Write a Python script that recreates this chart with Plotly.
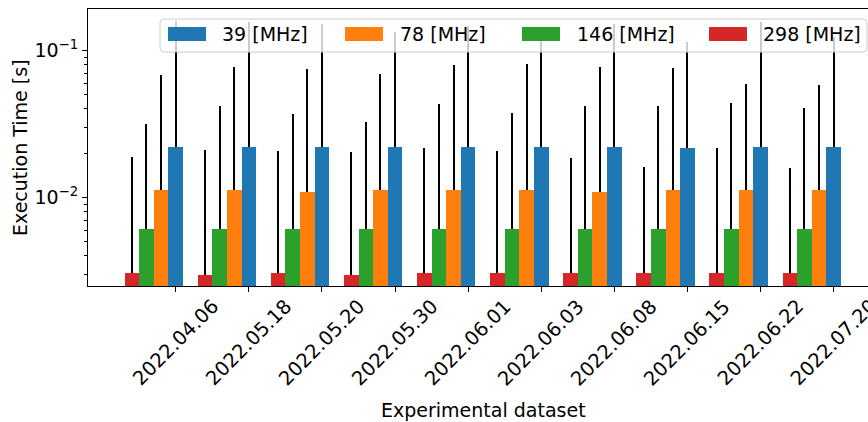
import numpy as np
import plotly.graph_objects as go

# ---- data -------------------------------------------------------------
datasets = ["2022.04.06", "2022.05.18", "2022.05.20", "2022.05.30", "2022.06.01",
            "2022.06.03", "2022.06.08", "2022.06.15", "2022.06.22", "2022.07.20"]

freq_labels = ["39 [MHz]", "78 [MHz]", "146 [MHz]", "298 [MHz]"]

mean_39 = [0.02206, 0.02206, 0.02206, 0.02206, 0.02206,
           0.02206, 0.02206, 0.02172, 0.02206, 0.02206]
std_39 = [0.1373, 0.1348, 0.1300, 0.1120, 0.1253,
          0.1059, 0.1300, 0.0930, 0.1348, 0.1019]

mean_78 = [0.01123, 0.01123, 0.01097, 0.01123, 0.01123,
           0.01123, 0.01097, 0.01123, 0.01123, 0.01123]
std_78 = [0.0571, 0.0662, 0.0641, 0.0581, 0.0687,
          0.0699, 0.0665, 0.0650, 0.0481, 0.0471]

mean_146 = [0.0061, 0.0061, 0.0061, 0.0061, 0.0061,
            0.0061, 0.0061, 0.0061, 0.0061, 0.0061]
std_146 = [0.0256, 0.0359, 0.0309, 0.0266, 0.0372,
           0.0315, 0.0359, 0.0359, 0.0379, 0.0346]

mean_298 = [0.00304, 0.00297, 0.00304, 0.00297, 0.00304,
            0.00304, 0.00304, 0.00304, 0.00304, 0.00304]
std_298 = [0.0158, 0.0181, 0.0177, 0.0174, 0.0187,
           0.0177, 0.0155, 0.0131, 0.0187, 0.0128]

y_tick_vals = [0.01, 0.1]
y_tick_text = ["10<sup>−2</sup>", "10<sup>−1</sup>"]

# ---- styling ----------------------------------------------------------
W, H = 868, 422
L_M, R_M, T_M, B_M = 88, 0, 9, 136
FONT = "DejaVu Sans"
FS = 19
colors = {"39 [MHz]": "#1f77b4", "78 [MHz]": "#ff7f0e",
          "146 [MHz]": "#2ca02c", "298 [MHz]": "#d62728"}
bar_w = 0.2

series = [  # drawn left to right inside each group
    ("298 [MHz]", mean_298, std_298, -0.6),
    ("146 [MHz]", mean_146, std_146, -0.4),
    ("78 [MHz]", mean_78, std_78, -0.2),
    ("39 [MHz]", mean_39, std_39, 0.0),
]

idx = np.arange(len(datasets))

fig = go.Figure()
for name, mean, std, off in series:
    fig.add_trace(go.Bar(
        x=idx + off, y=mean, width=bar_w, name=name,
        marker=dict(color=colors[name], line=dict(width=0)),
        error_y=dict(type="data", symmetric=False, array=std,
                     arrayminus=[0] * len(std), color="black",
                     thickness=2, width=0),
        showlegend=False,
    ))

plot_w = W - L_M - R_M
plot_h = H - T_M - B_M


def px(x):
    return (x - L_M) / plot_w


def py(y):
    return (H - B_M - y) / plot_h


shapes = []
annotations = []

# legend box with rounded corners
bx0, by0, bx1, by1, r = 160, 19, 867, 52, 4
path = (f"M {px(bx0 + r)},{py(by0)} L {px(bx1 - r)},{py(by0)} "
        f"Q {px(bx1)},{py(by0)} {px(bx1)},{py(by0 + r)} "
        f"L {px(bx1)},{py(by1 - r)} Q {px(bx1)},{py(by1)} {px(bx1 - r)},{py(by1)} "
        f"L {px(bx0 + r)},{py(by1)} Q {px(bx0)},{py(by1)} {px(bx0)},{py(by1 - r)} "
        f"L {px(bx0)},{py(by0 + r)} Q {px(bx0)},{py(by0)} {px(bx0 + r)},{py(by0)} Z")
shapes.append(dict(type="path", xref="paper", yref="paper", path=path,
                   fillcolor="rgba(255,255,255,0.8)",
                   line=dict(color="#cccccc", width=1), layer="above"))

patch_x = [168, 345, 522, 709]
text_x = [222, 400, 577, 763]
for name, x0, tx in zip(freq_labels, patch_x, text_x):
    shapes.append(dict(type="rect", xref="paper", yref="paper",
                       x0=px(x0), x1=px(x0 + 38), y0=py(41), y1=py(27),
                       fillcolor=colors[name], line=dict(width=0), layer="above"))
    annotations.append(dict(text=name, xref="paper", yref="paper",
                            x=px(tx - 2), y=py(34.5), xanchor="left", yanchor="middle",
                            showarrow=False, font=dict(family=FONT, size=FS, color="#000000")))

# rotated category labels under the ticks
for i, lab in enumerate(datasets):
    annotations.append(dict(text=lab, xref="x", yref="paper", x=i, y=py(292),
                            xanchor="center", yanchor="top", textangle=-45,
                            showarrow=False, font=dict(family=FONT, size=19.5, color="#000000")))

# axis titles
annotations.append(dict(text="Experimental dataset", xref="paper", yref="paper",
                        x=px(483), y=py(410), xanchor="center", yanchor="middle",
                        showarrow=False, font=dict(family=FONT, size=FS, color="#000000")))
annotations.append(dict(text="Execution Time [s]", xref="paper", yref="paper",
                        x=px(19.5), y=0.5, xanchor="center", yanchor="middle",
                        textangle=-90, showarrow=False,
                        font=dict(family=FONT, size=FS, color="#000000")))

fig.update_layout(
    width=W, height=H,
    margin=dict(l=L_M, r=R_M, t=T_M, b=B_M, pad=0),
    paper_bgcolor="white", plot_bgcolor="white",
    barmode="overlay", bargap=0,
    font=dict(family=FONT, size=FS, color="#000000"),
    shapes=shapes, annotations=annotations,
    xaxis=dict(range=[-1.2, 9.469], tickmode="array", tickvals=list(idx),
               showticklabels=False, ticks="outside", ticklen=5, tickwidth=1,
               tickcolor="black", showline=True, linecolor="black", linewidth=1,
               mirror=True, showgrid=False, zeroline=False),
    yaxis=dict(type="log", range=[-2.6026, -0.7178], tickmode="array",
               tickvals=y_tick_vals, ticktext=y_tick_text,
               ticks="outside", ticklen=5, tickwidth=1, tickcolor="black",
               minor=dict(ticks="outside", ticklen=3, tickwidth=0.8,
                          tickcolor="black", dtick="D1", showgrid=False),
               showline=True, linecolor="black", linewidth=1, mirror=False,
               showgrid=False, zeroline=False,
               tickfont=dict(family=FONT, size=FS, color="#000000")),
)

fig.write_html("out.html")
